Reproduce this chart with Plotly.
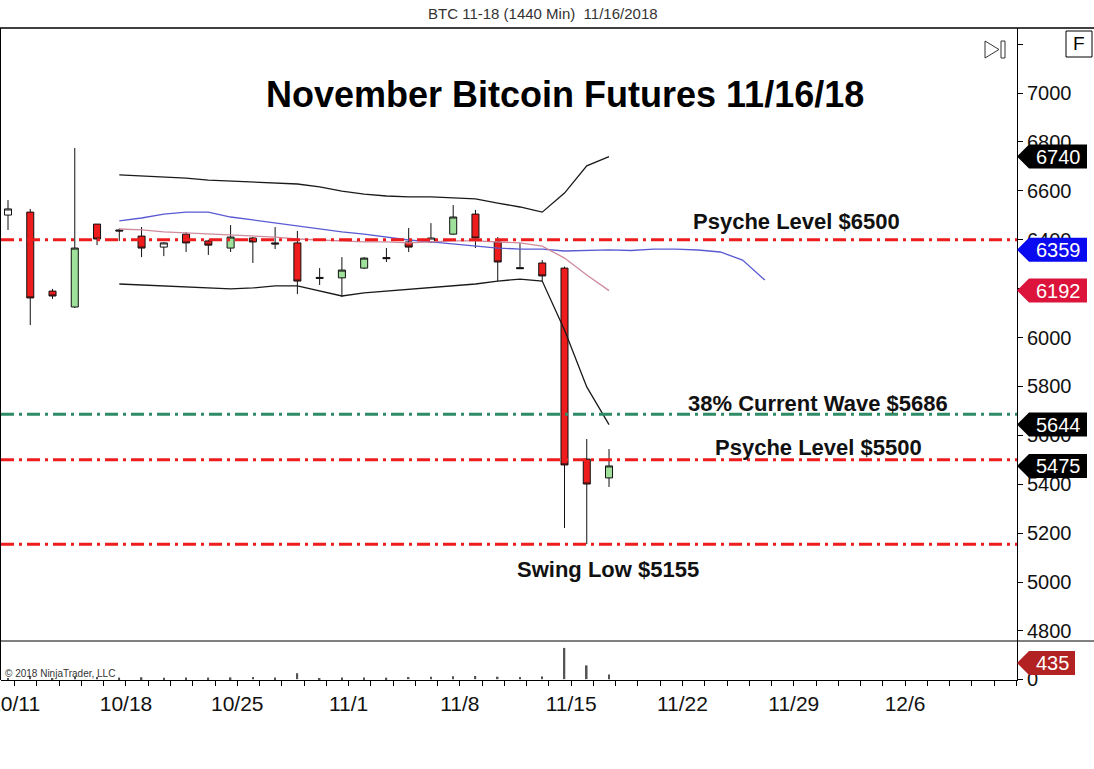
import pandas as pd
import plotly.graph_objects as go

# ---------------- data ----------------
candle_dates = pd.bdate_range("2018-10-10", "2018-11-16")   # 28 daily bars
opens  = [6501, 6513, 6190, 6125, 6464, 6440, 6415, 6370, 6423, 6395, 6366, 6407, 6387, 6387,
          6246, 6244, 6284, 6327, 6391, 6391, 6423, 6505, 6391, 6286, 6305, 6284, 5503, 5426]
highs  = [6562, 6526, 6199, 6775, 6464, 6446, 6452, 6390, 6432, 6400, 6460, 6411, 6452, 6436,
          6284, 6329, 6329, 6366, 6448, 6468, 6542, 6522, 6411, 6387, 6317, 6290, 5585, 5544]
lows   = [6440, 6051, 6158, 6121, 6378, 6395, 6329, 6333, 6350, 6338, 6350, 6305, 6362, 6178,
          6215, 6166, 6280, 6309, 6350, 6387, 6420, 6366, 6231, 6280, 6227, 5221, 5155, 5389]
closes = [6526, 6162, 6170, 6366, 6403, 6436, 6366, 6387, 6387, 6378, 6411, 6391, 6383, 6231,
          6242, 6276, 6325, 6323, 6370, 6407, 6493, 6407, 6309, 6282, 6252, 5479, 5401, 5475]
volume = [120, 250, 90, 260, 200, 150, 180, 140, 160, 150, 170, 200, 150, 560,
          90, 150, 160, 140, 200, 230, 280, 300, 230, 200, 260, 2950, 1300, 435]

band_dates = pd.bdate_range("2018-10-17", "2018-11-16")       # 23 values
upper_band = [6665, 6661, 6657, 6652, 6644, 6640, 6636, 6632, 6628, 6616, 6599, 6587, 6579,
              6575, 6575, 6571, 6567, 6550, 6534, 6513, 6591, 6702, 6740]
lower_band = [6219, 6215, 6211, 6207, 6203, 6199, 6203, 6211, 6211, 6190, 6170, 6183, 6190,
              6199, 6203, 6211, 6219, 6231, 6239, 6231, 6031, 5798, 5644]
pink_ma    = [6444, 6440, 6432, 6428, 6423, 6419, 6415, 6411, 6403, 6399, 6395, 6391, 6391,
              6387, 6391, 6395, 6395, 6391, 6387, 6374, 6325, 6256, 6192]
blue_dates = pd.bdate_range("2018-10-17", periods=30)          # runs past the last bar
blue_ma    = [6477, 6489, 6505, 6513, 6513, 6493, 6481, 6468, 6456, 6444, 6432, 6423, 6411,
              6399, 6391, 6383, 6374, 6366, 6362, 6362, 6354, 6355, 6359, 6356, 6362, 6362,
              6358, 6350, 6317, 6235]

level_values = [6400, 5686, 5500, 5155]
level_texts = ["Psyche Level $6500", "38% Current Wave $5686", "Psyche Level $5500", "Swing Low $5155"]

week_dates = ["2018-10-11", "2018-10-18", "2018-10-25", "2018-11-01", "2018-11-08",
              "2018-11-15", "2018-11-22", "2018-11-29", "2018-12-06"]
week_labels = ["10/11", "10/18", "10/25", "11/1", "11/8", "11/15", "11/22", "11/29", "12/6"]
price_ticks = [4800, 5000, 5200, 5400, 5600, 5800, 6000, 6200, 6400, 6600, 6800, 7000, 7200]

chart_title = "November Bitcoin Futures 11/16/18"
top_title = "BTC 11-18 (1440 Min)  11/16/2018"

# ---------------- layout helpers ----------------
W, H = 1094, 769
ML, MR, MT, MB = 1, 77, 28, 89
PW, PH = W - ML - MR, H - MT - MB
def px_x(px): return (px - ML) / PW
def px_y(py): return (H - MB - py) / PH
VOL_DOMAIN = px_y(641)

axis_days = pd.bdate_range("2018-10-10", "2018-12-31")
pos = {d: i for i, d in enumerate(axis_days)}
def xi(ds): return [pos[pd.Timestamp(d)] for d in ds]
LABEL_OFF = -0.7

FONT = "Liberation Sans, Arial, sans-serif"
RED = "#ee1c1c"
GREEN = "#9fe09a"

xc = xi(candle_dates)
up_i = [k for k in range(len(closes)) if closes[k] > opens[k] and closes[k] - opens[k] >= 30]
wh_i = [k for k in range(len(closes)) if closes[k] > opens[k] and closes[k] - opens[k] < 30]
dn_i = [k for k in range(len(closes)) if closes[k] <= opens[k]]

fig = go.Figure()

def add_line(xs, ys, color, width):
    fig.add_trace(go.Scatter(x=xs, y=ys, mode="lines", line=dict(color=color, width=width),
                             hoverinfo="skip", xaxis="x", yaxis="y"))

add_line(xi(band_dates), upper_band, "#1a1a1a", 1.3)
add_line(xi(band_dates), lower_band, "#1a1a1a", 1.3)
add_line(xi(blue_dates), blue_ma, "#5a5ad2", 1.3)
add_line(xi(band_dates), pink_ma, "#cf8a9c", 1.3)

def add_candles(idx, inc_fill):
    fig.add_trace(go.Candlestick(
        x=[xc[k] for k in idx], open=[opens[k] for k in idx], high=[highs[k] for k in idx],
        low=[lows[k] for k in idx], close=[closes[k] for k in idx],
        increasing=dict(fillcolor=inc_fill, line=dict(color="#111", width=1)),
        decreasing=dict(fillcolor=RED, line=dict(color="#111", width=1)),
        whiskerwidth=0, hoverinfo="skip", xaxis="x", yaxis="y"))

add_candles(up_i, GREEN)
add_candles(wh_i, "#ffffff")
add_candles(dn_i, RED)

fig.add_trace(go.Bar(x=xc, y=volume, width=0.07, marker=dict(color="#555", line=dict(width=0)),
                     hoverinfo="skip", xaxis="x", yaxis="y2"))

shapes, annotations = [], []

# horizontal levels
level_colors = [RED, "#2e8b66", RED, RED]
for v, c in zip(level_values, level_colors):
    shapes.append(dict(type="line", xref="paper", yref="y", x0=0, x1=1, y0=v, y1=v,
                       line=dict(color=c, width=3, dash="13px,5px,3px,5px"), layer="above"))

# level texts
text_cx = [796, 818, 818, 608]
text_dy = [-18, -11, -12, 25]
for t, v, cx, dy in zip(level_texts, level_values, text_cx, text_dy):
    annotations.append(dict(text=t, x=px_x(cx), xref="paper", y=v, yref="y", yshift=-dy,
                            showarrow=False, xanchor="center", yanchor="middle",
                            font=dict(family=FONT, size=22, color="#111", weight="bold")))

annotations.append(dict(text=chart_title, x=px_x(565), y=px_y(95), xref="paper", yref="paper",
                        showarrow=False, xanchor="center", yanchor="middle",
                        font=dict(family=FONT, size=36, color="#000", weight="bold")))
annotations.append(dict(text=top_title, x=px_x(543), y=px_y(14), xref="paper", yref="paper",
                        showarrow=False, xanchor="center", yanchor="middle",
                        font=dict(family=FONT, size=15, color="#333")))
annotations.append(dict(text="© 2018 NinjaTrader, LLC", x=px_x(3), y=px_y(673), xref="paper",
                        yref="paper", showarrow=False, xanchor="left", yanchor="middle",
                        font=dict(family=FONT, size=10, color="#333")))

# right-hand value tags
tags = [(upper_band[-1], "#000000"), (blue_ma[len(band_dates) - 1], "#0a0af0"),
        (pink_ma[-1], "#dc143c"), (lower_band[-1], "#000000"), (closes[-1], "#000000")]
for val, col in tags:
    shapes.append(dict(type="path", xref="paper", xsizemode="pixel", xanchor=1,
                       yref="y", ysizemode="pixel", yanchor=val,
                       path="M0,0 L12,12 L70,12 L70,-12 L12,-12 Z",
                       fillcolor=col, line=dict(width=0), layer="above"))
    annotations.append(dict(text=str(val), x=1, xref="paper", xshift=41, y=val, yref="y",
                            showarrow=False, xanchor="center", yanchor="middle",
                            font=dict(family=FONT, size=20, color="#fff")))
shapes.append(dict(type="path", xref="paper", xsizemode="pixel", xanchor=1,
                   yref="paper", ysizemode="pixel", yanchor=px_y(663),
                   path="M0,0 L12,12 L58,12 L58,-12 L12,-12 Z",
                   fillcolor="#b22222", line=dict(width=0), layer="above"))
annotations.append(dict(text=str(volume[-1]), x=1, xref="paper", xshift=35, y=px_y(663),
                        yref="paper", showarrow=False, xanchor="center", yanchor="middle",
                        font=dict(family=FONT, size=20, color="#fff")))

# frame pieces
shapes += [
    dict(type="line", xref="paper", yref="paper", x0=px_x(0), x1=px_x(W), y0=1, y1=1,
         line=dict(color="#000", width=1.5)),
    dict(type="line", xref="paper", yref="paper", x0=px_x(0), x1=px_x(W), y0=VOL_DOMAIN, y1=VOL_DOMAIN,
         line=dict(color="#000", width=1)),
    dict(type="line", xref="paper", yref="paper", x0=px_x(0.5), x1=px_x(0.5), y0=0, y1=1,
         line=dict(color="#000", width=1)),
    dict(type="rect", xref="paper", yref="paper", x0=px_x(1066), x1=px_x(1092),
         y0=px_y(57), y1=px_y(31), line=dict(color="#000", width=1), fillcolor="#fff"),
    dict(type="path", xref="paper", yref="paper",
         path=f"M{px_x(985)},{px_y(41)} L{px_x(985)},{px_y(58)} L{px_x(999)},{px_y(49.5)} Z",
         line=dict(color="#333", width=1)),
    dict(type="rect", xref="paper", yref="paper", x0=px_x(1001), x1=px_x(1005),
         y0=px_y(58), y1=px_y(41), line=dict(color="#333", width=1)),
]
annotations.append(dict(text="F", x=px_x(1079), y=px_y(44), xref="paper", yref="paper",
                        showarrow=False, xanchor="center", yanchor="middle",
                        font=dict(family=FONT, size=19, color="#000")))

x_left = (ML - 8) / 22.26
x_right = (ML + PW - 8) / 22.26

fig.update_layout(
    width=W, height=H, margin=dict(l=ML, r=MR, t=MT, b=MB, autoexpand=False),
    paper_bgcolor="#fff", plot_bgcolor="#fff", showlegend=False, hovermode=False,
    boxgap=0.55, boxgroupgap=0.3,
    xaxis=dict(range=[x_left, x_right], anchor="y2", showgrid=False, zeroline=False,
               automargin=False, showline=True, linecolor="#000", linewidth=1,
               tickmode="array", tickvals=[v + LABEL_OFF for v in xi(week_dates)],
               ticktext=week_labels, ticks="outside", ticklen=5, tickcolor="#000",
               ticklabeloverflow="allow",
               tickfont=dict(family=FONT, size=21, color="#111"),
               minor=dict(tickmode="array", tickvals=[i + LABEL_OFF for i in range(len(axis_days))],
                          ticks="outside", ticklen=5, tickcolor="#000"),
               rangeslider=dict(visible=False)),
    yaxis=dict(domain=[VOL_DOMAIN, 1], anchor="x", side="right", range=[4759, 7266],
               automargin=False,
               showgrid=False, zeroline=False, showline=True, linecolor="#000", linewidth=1,
               tickmode="array", tickvals=price_ticks,
               ticktext=[str(t) if t < 7200 else "" for t in price_ticks],
               ticks="outside", ticklen=5, tickcolor="#000",
               tickfont=dict(family=FONT, size=20, color="#111")),
    yaxis2=dict(domain=[0, VOL_DOMAIN], anchor="x", side="right", range=[-80, 3600],
                automargin=False,
                showgrid=False, zeroline=False, showline=True, linecolor="#000", linewidth=1,
                tickmode="array", tickvals=[0], ticktext=["0"], ticks="outside", ticklen=5,
                tickcolor="#000", tickfont=dict(family=FONT, size=20, color="#111")),
    shapes=shapes, annotations=annotations,
)

fig.write_html("out.html", config={"displayModeBar": False},
               post_script="document.body.style.margin='0';document.body.style.overflow='hidden';")
